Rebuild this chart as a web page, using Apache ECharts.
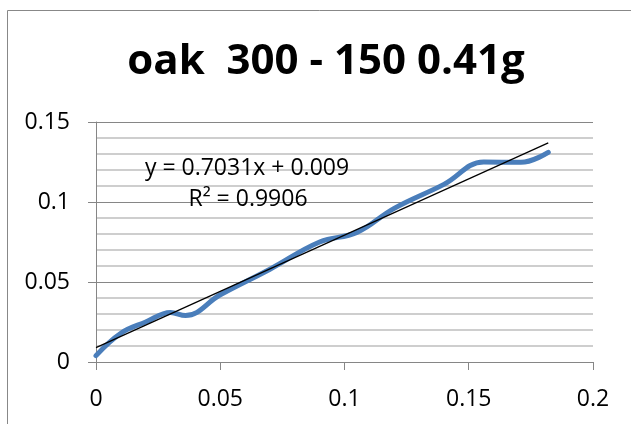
<!DOCTYPE html>
<html>
<head>
<meta charset="utf-8">
<script src="https://cdn.jsdelivr.net/npm/echarts@6/dist/echarts.min.js"></script>
<style>html,body{margin:0;padding:0;background:#fff;}#c{width:631px;height:424px;}</style>
</head>
<body>
<div id="c"></div>
<script>
var titleText = 'oak  300 - 150 0.41g';
var xValues = [0, 0.01, 0.02, 0.03, 0.036, 0.05, 0.07, 0.09, 0.105, 0.12, 0.14, 0.156, 0.171, 0.182];
var yValues = [0.004, 0.018, 0.025, 0.031, 0.029, 0.042, 0.058, 0.075, 0.081, 0.096, 0.111, 0.125, 0.1248, 0.131];
var trendSlope = 0.7031;
var trendIntercept = 0.009;
var trendXRange = [0, 0.182];
var eqLine1 = 'y = 0.7031x + 0.009';
var eqLine2 = 'R² = 0.9906';
var xTicks = [0, 0.05, 0.1, 0.15, 0.2];
var yTicks = [0, 0.05, 0.1, 0.15];

var font = 'Open Sans';
var dataPts = xValues.map(function (x, i) { return [x, yValues[i]]; });
var trendPts = trendXRange.map(function (x) { return [x, trendSlope * x + trendIntercept]; });
var fmt = function (v) { return String(Math.round(v * 1000) / 1000); };

var chart = echarts.init(document.getElementById('c'));
chart.setOption({
  animation: false,
  backgroundColor: '#fff',
  title: {
    text: titleText, left: 321, top: 36, textAlign: 'center',
    textStyle: { fontFamily: font, fontWeight: 'bold', fontSize: 42, color: '#000' }
  },
  graphic: [
    { type: 'rect', shape: { x: 7.5, y: 10.5, width: 700, height: 500 },
      style: { fill: 'none', stroke: '#888', lineWidth: 1 }, silent: true },
    { type: 'text', x: 247, y: 168, style: { text: eqLine1, fontFamily: font, fontSize: 23, fill: '#000', align: 'center', verticalAlign: 'middle' }, z: 10 },
    { type: 'text', x: 248, y: 199, style: { text: eqLine2, fontFamily: font, fontSize: 23, fill: '#000', align: 'center', verticalAlign: 'middle' }, z: 10 }
  ],
  grid: { left: 96, right: 38, top: 122, bottom: 62, containLabel: false },
  xAxis: {
    type: 'value', min: xTicks[0], max: xTicks[xTicks.length - 1], interval: 0.05,
    axisLine: { show: true, onZero: false, lineStyle: { color: '#868686', width: 1 } },
    axisTick: { show: true, inside: false, length: 8, lineStyle: { color: '#868686' } },
    axisLabel: { formatter: fmt, fontFamily: font, fontSize: 23, color: '#000', margin: 26 },
    splitLine: { show: false }
  },
  yAxis: {
    type: 'value', min: yTicks[0], max: yTicks[yTicks.length - 1], interval: 0.05,
    axisLine: { show: true, onZero: false, lineStyle: { color: '#868686', width: 1 } },
    axisTick: { show: true, inside: false, length: 8, lineStyle: { color: '#868686' } },
    axisLabel: { formatter: fmt, fontFamily: font, fontSize: 23, color: '#000', margin: 26 },
    splitLine: { show: true, lineStyle: { color: '#868686', width: 1 } },
    minorTick: { show: false, splitNumber: 5 },
    minorSplitLine: { show: true, lineStyle: { color: '#bfbfbf', width: 1.5 } }
  },
  series: [
    { type: 'line', data: dataPts, smooth: 0.4, showSymbol: false, symbol: 'none',
      lineStyle: { color: '#4a7ebb', width: 5, cap: 'round' }, z: 3 },
    { type: 'line', data: trendPts, showSymbol: false, symbol: 'none',
      lineStyle: { color: '#000', width: 1.2 }, z: 4 }
  ]
});
</script>
</body>
</html>
